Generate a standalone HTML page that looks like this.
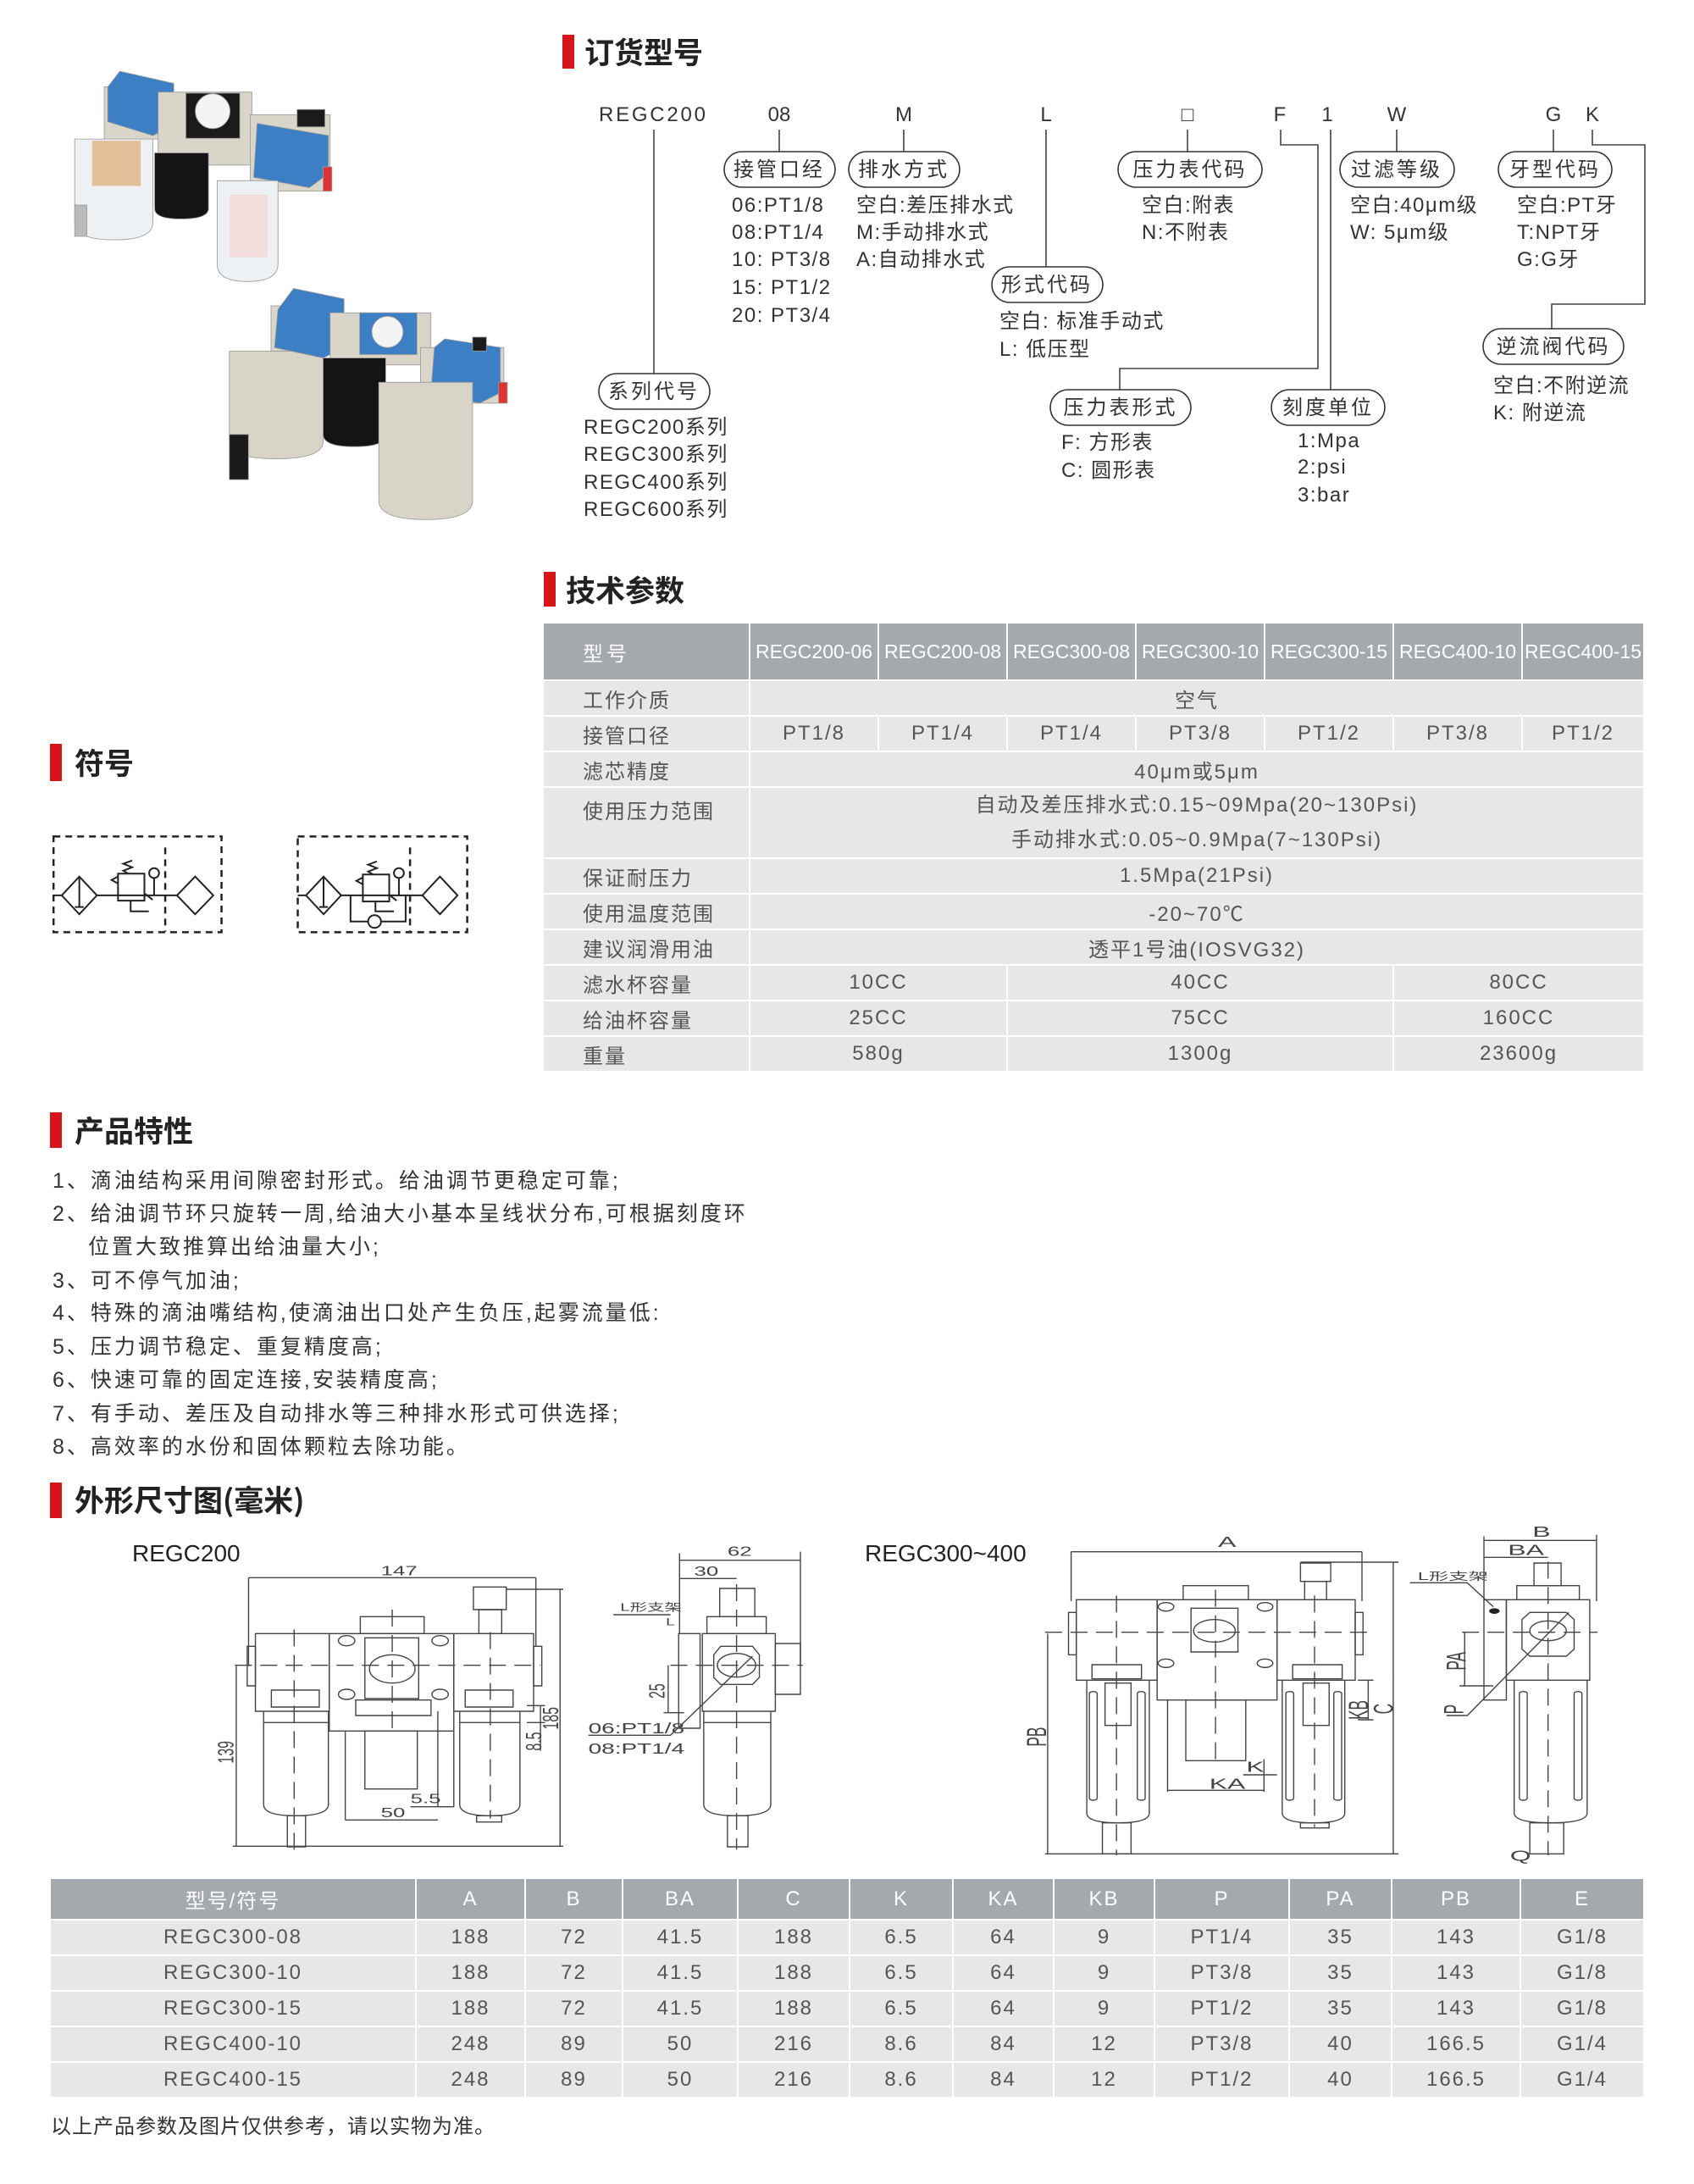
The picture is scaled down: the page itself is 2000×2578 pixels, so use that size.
<!DOCTYPE html>
<html><head><meta charset="utf-8">
<style>
*{margin:0;padding:0;box-sizing:border-box}
body{width:2000px;height:2578px;position:relative;background:#fff;font-family:"Liberation Sans","Noto Sans CJK SC",sans-serif;color:#333;overflow:hidden}
.abs{position:absolute}
.bar{position:absolute;width:14px;background:#d7141a}
.ttl{position:absolute;font-family:"Noto Sans CJK SC",sans-serif;font-weight:bold;font-size:35px;color:#222;line-height:1}
table{border-collapse:collapse;table-layout:fixed;position:absolute}
td{border:2px solid #fff;background:#e6e7e9;text-align:center;font-family:"Liberation Sans","Noto Sans CJK SC",sans-serif;font-size:24px;color:#555;letter-spacing:2px;padding:0;white-space:nowrap;overflow:hidden}
tr.h td{background:#a5a9ad;color:#fff}
td.l{text-align:left;padding-left:46px}
.feat{position:absolute;left:62px;font-family:"Liberation Sans","Noto Sans CJK SC",sans-serif;font-size:25px;letter-spacing:3px;color:#333;line-height:1;white-space:nowrap}
</style></head><body>

<!-- product photos -->
<svg class="abs" style="left:0;top:0" width="640" height="640" viewBox="0 0 1560 1560" preserveAspectRatio="none">
 <g stroke="#999" stroke-width="2">
  <path d="M215 400 L440 400 L440 640 Q440 690 330 690 Q215 690 215 640 Z" fill="#eef1f4"/>
  <rect x="265" y="405" width="140" height="130" fill="#e2bf98" stroke="none"/>
  <rect x="215" y="590" width="35" height="90" fill="#bbb"/>
  <path d="M300 250 L460 250 L460 400 L300 400 Z" fill="#d9d5c8"/>
  <path d="M345 205 L500 240 L500 360 L440 390 L310 350 L310 250 Z" fill="#3d7fc4"/>
  <rect x="455" y="265" width="270" height="210" fill="#d9d5c8"/>
  <rect x="535" y="268" width="155" height="130" fill="#1b1b1b"/>
  <circle cx="612" cy="320" r="50" fill="#f4f4f4"/>
  <path d="M445 440 L600 440 L600 600 Q600 630 520 630 Q445 630 445 600 Z" fill="#141414"/>
  <rect x="720" y="330" width="230" height="220" fill="#d9d5c8"/>
  <path d="M740 355 L945 390 L945 500 L890 540 L730 510 Z" fill="#3d7fc4"/>
  <rect x="855" y="315" width="80" height="50" fill="#1b1b1b"/>
  <path d="M625 520 L800 520 L800 760 Q800 810 712 810 Q625 810 625 760 Z" fill="#eef1f4"/>
  <rect x="660" y="560" width="110" height="180" fill="#f3dede" stroke="none"/>
  <rect x="930" y="480" width="25" height="70" fill="#d33"/>
  <path d="M660 1010 L930 1010 L930 1270 Q930 1320 795 1320 Q660 1320 660 1270 Z" fill="#d8d4c7"/>
  <rect x="660" y="1250" width="55" height="130" fill="#1a1a1a"/>
  <rect x="780" y="880" width="180" height="130" fill="#d9d5c8"/>
  <path d="M845 830 L990 860 L990 1000 L930 1030 L790 1000 L800 890 Z" fill="#3d7fc4"/>
  <rect x="950" y="900" width="290" height="150" fill="#d9d5c8"/>
  <rect x="1035" y="900" width="165" height="120" fill="#3d7fc4"/>
  <circle cx="1115" cy="955" r="45" fill="#f4f4f4"/>
  <path d="M930 1030 L1110 1030 L1110 1250 Q1110 1285 1020 1285 Q930 1285 930 1250 Z" fill="#141414"/>
  <rect x="1210" y="1000" width="240" height="160" fill="#d9d5c8"/>
  <path d="M1280 975 L1440 1000 L1440 1130 L1380 1160 L1240 1130 L1250 1000 Z" fill="#3d7fc4"/>
  <rect x="1360" y="970" width="40" height="40" fill="#1b1b1b"/>
  <path d="M1090 1100 L1360 1100 L1360 1440 Q1360 1495 1225 1495 Q1090 1495 1090 1440 Z" fill="#d8d4c7"/>
  <rect x="1435" y="1100" width="25" height="60" fill="#d33"/>
 </g>
</svg>

<!-- 订货型号 -->
<div class="bar" style="left:664px;top:41px;height:40px"></div>
<div class="ttl" style="left:690px;top:43px">订货型号</div>

<svg class="abs" style="left:0;top:0" width="2000" height="640">
 <g stroke="#444" stroke-width="1.6" fill="none">
  <path d="M772 153V441M920 153V179M1067 153V179M1235 153V315M1402 153V179M1571 153V460M1649 153V179M1834 153V179"/>
  <path d="M1512 153V171H1556V435H1322V460"/>
  <path d="M1880 153V171H1942V359H1832V388"/>
 </g>
 <g stroke="#333" stroke-width="1.6" fill="#fff">
  <rect x="855" y="179" width="131" height="42" rx="21"/>
  <rect x="1002" y="179" width="131" height="42" rx="21"/>
  <rect x="1320" y="179" width="170" height="42" rx="21"/>
  <rect x="1582" y="179" width="135" height="42" rx="21"/>
  <rect x="1769" y="179" width="134" height="42" rx="21"/>
  <rect x="1171" y="315" width="131" height="42" rx="21"/>
  <rect x="707" y="441" width="131" height="42" rx="21"/>
  <rect x="1240" y="460" width="166" height="42" rx="21"/>
  <rect x="1501" y="460" width="134" height="42" rx="21"/>
  <rect x="1751" y="388" width="166" height="42" rx="21"/>
 </g>
 <g font-family="Liberation Sans, Noto Sans CJK SC, sans-serif" font-size="24" fill="#333">
  <text x="707" y="143" textLength="129" letter-spacing="3">REGC200</text>
  <g text-anchor="middle">
   <text x="920" y="143">08</text><text x="1067" y="143">M</text><text x="1235" y="143">L</text>
   <text x="1402" y="143">□</text><text x="1511" y="143">F</text><text x="1567" y="143">1</text>
   <text x="1649" y="143">W</text><text x="1834" y="143">G</text><text x="1880" y="143">K</text>
  </g>
  <g text-anchor="middle" letter-spacing="3">
   <text x="920" y="208">接管口经</text><text x="1067" y="208">排水方式</text>
   <text x="1405" y="208">压力表代码</text><text x="1649" y="208">过滤等级</text>
   <text x="1836" y="208">牙型代码</text><text x="1236" y="344">形式代码</text>
   <text x="772" y="470">系列代号</text><text x="1323" y="489">压力表形式</text>
   <text x="1568" y="489">刻度单位</text><text x="1834" y="417">逆流阀代码</text>
  </g>
  <g letter-spacing="1.5">
   <text x="864" y="250">06:PT1/8</text><text x="864" y="282">08:PT1/4</text><text x="864" y="314">10: PT3/8</text><text x="864" y="347">15: PT1/2</text><text x="864" y="380">20: PT3/4</text>
   <text x="1011" y="250">空白:差压排水式</text><text x="1011" y="282">M:手动排水式</text><text x="1011" y="314">A:自动排水式</text>
   <text x="1348" y="250">空白:附表</text><text x="1348" y="282">N:不附表</text>
   <text x="1594" y="250">空白:40μm级</text><text x="1594" y="282">W: 5μm级</text>
   <text x="1791" y="250">空白:PT牙</text><text x="1791" y="282">T:NPT牙</text><text x="1791" y="314">G:G牙</text>
   <text x="1180" y="387">空白: 标准手动式</text><text x="1180" y="420">L: 低压型</text>
   <text x="689" y="512">REGC200系列</text><text x="689" y="544">REGC300系列</text><text x="689" y="577">REGC400系列</text><text x="689" y="609">REGC600系列</text>
   <text x="1253" y="530">F: 方形表</text><text x="1253" y="563">C: 圆形表</text>
   <text x="1532" y="528">1:Mpa</text><text x="1532" y="559">2:psi</text><text x="1532" y="592">3:bar</text>
   <text x="1763" y="463">空白:不附逆流</text><text x="1763" y="495">K: 附逆流</text>
  </g>
 </g>
</svg>

<!-- 技术参数 -->
<div class="bar" style="left:642px;top:675px;height:41px"></div>
<div class="ttl" style="left:668px;top:678px">技术参数</div>
<table style="left:640px;top:734px;width:1300px">
 <colgroup><col style="width:244px"><col style="width:152px"><col style="width:152px"><col style="width:152px"><col style="width:152px"><col style="width:152px"><col style="width:152px"><col style="width:144px"></colgroup>
 <tr class="h" style="height:68px"><td class="l" style="letter-spacing:4px">型号</td><td style="letter-spacing:0;font-size:23px">REGC200-06</td><td style="letter-spacing:0;font-size:23px">REGC200-08</td><td style="letter-spacing:0;font-size:23px">REGC300-08</td><td style="letter-spacing:0;font-size:23px">REGC300-10</td><td style="letter-spacing:0;font-size:23px">REGC300-15</td><td style="letter-spacing:0;font-size:23px">REGC400-10</td><td style="letter-spacing:0;font-size:23px">REGC400-15</td></tr>
 <tr style="height:42px"><td class="l">工作介质</td><td colspan="7">空气</td></tr>
 <tr style="height:42px"><td class="l">接管口径</td><td>PT1/8</td><td>PT1/4</td><td>PT1/4</td><td>PT3/8</td><td>PT1/2</td><td>PT3/8</td><td>PT1/2</td></tr>
 <tr style="height:42px"><td class="l">滤芯精度</td><td colspan="7">40μm或5μm</td></tr>
 <tr style="height:84px"><td class="l" style="vertical-align:top;padding-top:8px">使用压力范围</td><td colspan="7" style="line-height:41px">自动及差压排水式:0.15~09Mpa(20~130Psi)<br>手动排水式:0.05~0.9Mpa(7~130Psi)</td></tr>
 <tr style="height:42px"><td class="l">保证耐压力</td><td colspan="7">1.5Mpa(21Psi)</td></tr>
 <tr style="height:42px"><td class="l">使用温度范围</td><td colspan="7">-20~70℃</td></tr>
 <tr style="height:42px"><td class="l">建议润滑用油</td><td colspan="7">透平1号油(IOSVG32)</td></tr>
 <tr style="height:42px"><td class="l">滤水杯容量</td><td colspan="2">10CC</td><td colspan="3">40CC</td><td colspan="2">80CC</td></tr>
 <tr style="height:42px"><td class="l">给油杯容量</td><td colspan="2">25CC</td><td colspan="3">75CC</td><td colspan="2">160CC</td></tr>
 <tr style="height:42px"><td class="l">重量</td><td colspan="2">580g</td><td colspan="3">1300g</td><td colspan="2">23600g</td></tr>
</table>

<!-- 符号 -->
<div class="bar" style="left:59px;top:878px;height:44px"></div>
<div class="ttl" style="left:88px;top:882px">符号</div>
<svg class="abs" style="left:40px;top:860px" width="540" height="250" viewBox="0 0 1560 730" preserveAspectRatio="none">
 <g fill="none" stroke="#222" stroke-width="2">
  <g stroke-dasharray="8 6" stroke-width="2.5">
   <rect x="67" y="372" width="573" height="330" vector-effect="non-scaling-stroke"/>
   <path d="M448 410V700" vector-effect="non-scaling-stroke"/>
   <rect x="900" y="372" width="578" height="330" vector-effect="non-scaling-stroke"/>
   <path d="M1283 410V700" vector-effect="non-scaling-stroke"/>
  </g>
  <path d="M67 575H95M215 575H488" vector-effect="non-scaling-stroke"/>
  <path d="M95 575L155 510L215 575L155 640Z M155 510V615 M140 615H170" vector-effect="non-scaling-stroke"/>
  <rect x="287" y="500" width="90" height="93" vector-effect="non-scaling-stroke"/>
  <path d="M287 510L265 522L287 534 M322 500L305 490L335 478L305 466L335 455" vector-effect="non-scaling-stroke"/>
  <path d="M380 570L405 590 M330 593V630H392 M410 575V515" vector-effect="non-scaling-stroke"/>
  <circle cx="410" cy="498" r="17" vector-effect="non-scaling-stroke"/>
  <path d="M488 575L550 510L612 575L550 640Z" vector-effect="non-scaling-stroke"/>
  <path d="M900 575H928M1048 575H1325" vector-effect="non-scaling-stroke"/>
  <path d="M928 575L988 510L1048 575L988 640Z M988 510V615 M973 615H1003" vector-effect="non-scaling-stroke"/>
  <rect x="1122" y="503" width="90" height="93" vector-effect="non-scaling-stroke"/>
  <path d="M1122 513L1100 525L1122 537 M1157 503L1140 493L1170 481L1140 469L1170 458" vector-effect="non-scaling-stroke"/>
  <path d="M1212 573L1237 593 M1165 596V630H1228 M1245 575V515 M1080 575V665H1140 M1185 665H1268V575" vector-effect="non-scaling-stroke"/>
  <circle cx="1245" cy="498" r="17" vector-effect="non-scaling-stroke"/>
  <circle cx="1162" cy="665" r="22" vector-effect="non-scaling-stroke"/>
  <path d="M1325 575L1385 510L1445 575L1385 640Z" vector-effect="non-scaling-stroke"/>
 </g>
</svg>

<!-- 产品特性 -->
<div class="bar" style="left:59px;top:1313px;height:42px"></div>
<div class="ttl" style="left:88px;top:1316px">产品特性</div>
<div class="feat" style="top:1382px">1、滴油结构采用间隙密封形式。给油调节更稳定可靠;</div>
<div class="feat" style="top:1421px">2、给油调节环只旋转一周,给油大小基本呈线状分布,可根据刻度环</div>
<div class="feat" style="top:1460px;left:104px">位置大致推算出给油量大小;</div>
<div class="feat" style="top:1500px">3、可不停气加油;</div>
<div class="feat" style="top:1538px">4、特殊的滴油嘴结构,使滴油出口处产生负压,起雾流量低:</div>
<div class="feat" style="top:1578px">5、压力调节稳定、重复精度高;</div>
<div class="feat" style="top:1617px">6、快速可靠的固定连接,安装精度高;</div>
<div class="feat" style="top:1657px">7、有手动、差压及自动排水等三种排水形式可供选择;</div>
<div class="feat" style="top:1696px">8、高效率的水份和固体颗粒去除功能。</div>

<!-- 外形尺寸图 -->
<div class="bar" style="left:59px;top:1750px;height:42px"></div>
<div class="ttl" style="left:88px;top:1752px">外形尺寸图(毫米)</div>

<div class="abs" style="left:156px;top:1818px;font-size:28px;color:#222">REGC200</div>
<div class="abs" style="left:1021px;top:1818px;font-size:28px;color:#222">REGC300~400</div>

<svg class="abs" style="left:140px;top:1800px" width="840" height="400" viewBox="0 0 1560 1200" preserveAspectRatio="none">
 <g fill="none" stroke="#444" stroke-width="1.4">
  <path d="M285 187H915 M285 187V500 M915 187V430 M850 228H975 M968 228V1138 M250 1138H975 M258 500V1138 M497 1045H700 M497 730V1045 M700 660V1000 M640 998H735 M735 730V1000 M895 640H935 M895 700H935 M925 640V800" vector-effect="non-scaling-stroke"/>
  <rect x="300" y="385" width="162" height="275" vector-effect="non-scaling-stroke"/>
  <rect x="462" y="385" width="273" height="345" vector-effect="non-scaling-stroke"/>
  <rect x="735" y="385" width="175" height="275" vector-effect="non-scaling-stroke"/>
  <rect x="282" y="430" width="18" height="140" vector-effect="non-scaling-stroke"/>
  <rect x="910" y="430" width="18" height="140" vector-effect="non-scaling-stroke"/>
  <rect x="530" y="325" width="140" height="60" vector-effect="non-scaling-stroke"/>
  <rect x="778" y="220" width="72" height="80" vector-effect="non-scaling-stroke"/>
  <rect x="790" y="300" width="50" height="85" vector-effect="non-scaling-stroke"/>
  <rect x="540" y="400" width="118" height="215" vector-effect="non-scaling-stroke"/>
  <circle cx="600" cy="510" r="50" vector-effect="non-scaling-stroke"/>
  <circle cx="500" cy="410" r="18" vector-effect="non-scaling-stroke"/><circle cx="705" cy="410" r="18" vector-effect="non-scaling-stroke"/>
  <circle cx="500" cy="600" r="18" vector-effect="non-scaling-stroke"/><circle cx="705" cy="600" r="18" vector-effect="non-scaling-stroke"/>
  <rect x="335" y="585" width="105" height="60" vector-effect="non-scaling-stroke"/>
  <rect x="760" y="585" width="105" height="60" vector-effect="non-scaling-stroke"/>
  <rect x="520" y="620" width="165" height="55" vector-effect="non-scaling-stroke"/>
  <path d="M318 660V990Q318 1030 388 1030Q460 1030 460 990V660 M748 660V990Q748 1030 815 1030Q880 1030 880 990V660" vector-effect="non-scaling-stroke"/>
  <path d="M318 700H460 M748 700H880" vector-effect="non-scaling-stroke"/>
  <rect x="370" y="1030" width="40" height="110" vector-effect="non-scaling-stroke"/>
  <rect x="785" y="1030" width="55" height="22" vector-effect="non-scaling-stroke"/>
  <rect x="540" y="730" width="115" height="205" vector-effect="non-scaling-stroke"/>
  <path d="M255 497H925 M385 370V1150 M600 300V740 M815 380V1040 M1210 497H1500 M1355 210V1150" stroke-dasharray="20 10" vector-effect="non-scaling-stroke"/>
  <path d="M1230 125H1495 M1230 190H1355 M1230 100V385 M1495 95V500 M1205 497V665 M1195 665H1240 M1030 745H1210L1390 465 M1085 318H1210" vector-effect="non-scaling-stroke"/>
  <rect x="1280" y="385" width="160" height="275" vector-effect="non-scaling-stroke"/>
  <rect x="1318" y="225" width="77" height="100" vector-effect="non-scaling-stroke"/>
  <rect x="1290" y="325" width="130" height="60" vector-effect="non-scaling-stroke"/>
  <rect x="1440" y="420" width="55" height="180" vector-effect="non-scaling-stroke"/>
  <rect x="1228" y="385" width="47" height="335" vector-effect="non-scaling-stroke"/>
  <path d="M1320 430H1390L1405 460V540L1390 565H1320L1305 540V460Z" vector-effect="non-scaling-stroke"/>
  <circle cx="1355" cy="497" r="42" vector-effect="non-scaling-stroke"/>
  <path d="M1283 660V990Q1283 1030 1355 1030Q1430 1030 1430 990V660 M1283 700H1430" vector-effect="non-scaling-stroke"/>
  <rect x="1335" y="1030" width="45" height="110" vector-effect="non-scaling-stroke"/>
 </g>
 <g font-family="Liberation Sans, sans-serif" font-size="48" fill="#444">
  <text x="575" y="178">147</text><text x="575" y="1035">50</text><text x="640" y="985">5.5</text>
  <text x="1335" y="110">62</text><text x="1262" y="180">30</text>
  <text transform="translate(252,845) rotate(-90)">139</text>
  <text transform="translate(964,725) rotate(-90)">185</text>
  <text transform="translate(927,800) rotate(-90)">8.5</text>
  <text transform="translate(1197,615) rotate(-90)">25</text>
  <text x="1030" y="738" font-size="52">06:PT1/8</text><text x="1030" y="810" font-size="52">08:PT1/4</text>
  <text x="1100" y="305" font-size="38" font-family="Liberation Sans, Noto Sans CJK SC, sans-serif">L形支架</text>
  <text x="1200" y="355" font-size="36">L</text>
 </g>
</svg>

<svg class="abs" style="left:1000px;top:1790px" width="960" height="410" viewBox="0 0 1560 1230" preserveAspectRatio="none">
 <g fill="none" stroke="#444" stroke-width="1.4">
  <path d="M430 125H988 M430 125V300 M988 125V300 M870 162H1058 M1048 162V1195 M380 1195H1058 M385 415V1195 M615 970H800 M615 650V975 M800 860V975 M760 915H825 M1000 580V720 M980 580H1010 M980 720H1010" vector-effect="non-scaling-stroke"/>
  <rect x="440" y="295" width="155" height="285" vector-effect="non-scaling-stroke"/>
  <rect x="595" y="295" width="230" height="355" vector-effect="non-scaling-stroke"/>
  <rect x="825" y="295" width="150" height="285" vector-effect="non-scaling-stroke"/>
  <rect x="425" y="340" width="15" height="150" vector-effect="non-scaling-stroke"/>
  <rect x="975" y="340" width="15" height="150" vector-effect="non-scaling-stroke"/>
  <rect x="645" y="245" width="125" height="50" vector-effect="non-scaling-stroke"/>
  <rect x="870" y="165" width="58" height="65" vector-effect="non-scaling-stroke"/>
  <rect x="878" y="230" width="42" height="65" vector-effect="non-scaling-stroke"/>
  <rect x="660" y="325" width="90" height="155" vector-effect="non-scaling-stroke"/>
  <circle cx="705" cy="405" r="40" vector-effect="non-scaling-stroke"/>
  <circle cx="612" cy="320" r="15" vector-effect="non-scaling-stroke"/><circle cx="802" cy="320" r="15" vector-effect="non-scaling-stroke"/>
  <circle cx="612" cy="520" r="15" vector-effect="non-scaling-stroke"/><circle cx="802" cy="520" r="15" vector-effect="non-scaling-stroke"/>
  <rect x="470" y="525" width="95" height="50" vector-effect="non-scaling-stroke"/>
  <rect x="855" y="525" width="95" height="50" vector-effect="non-scaling-stroke"/>
  <path d="M460 580V1050Q460 1085 520 1085Q580 1085 580 1050V580 M835 580V1050Q835 1085 895 1085Q955 1085 955 1050V580" vector-effect="non-scaling-stroke"/>
  <rect x="465" y="620" width="15" height="385" rx="7" vector-effect="non-scaling-stroke"/><rect x="557" y="620" width="15" height="385" rx="7" vector-effect="non-scaling-stroke"/>
  <rect x="842" y="620" width="15" height="385" rx="7" vector-effect="non-scaling-stroke"/><rect x="934" y="620" width="15" height="385" rx="7" vector-effect="non-scaling-stroke"/>
  <rect x="495" y="590" width="50" height="150" vector-effect="non-scaling-stroke"/><rect x="875" y="590" width="50" height="150" vector-effect="non-scaling-stroke"/>
  <rect x="490" y="1085" width="55" height="110" vector-effect="non-scaling-stroke"/>
  <rect x="870" y="1085" width="55" height="18" vector-effect="non-scaling-stroke"/>
  <rect x="650" y="650" width="115" height="215" vector-effect="non-scaling-stroke"/>
  <path d="M380 410H1010 M517 280V1200 M707 260V880 M897 280V1100 M1180 410H1440 M1345 160V1200" stroke-dasharray="20 10" vector-effect="non-scaling-stroke"/>
  <path d="M1222 85H1438 M1222 145H1345 M1222 70V300 M1438 65V300 M1185 410V600 M1175 600H1240 M1080 235H1190L1240 320 M1150 705H1190L1385 340" vector-effect="non-scaling-stroke"/>
  <rect x="1265" y="295" width="160" height="285" vector-effect="non-scaling-stroke"/>
  <rect x="1318" y="165" width="52" height="80" vector-effect="non-scaling-stroke"/>
  <rect x="1285" y="245" width="120" height="50" vector-effect="non-scaling-stroke"/>
  <rect x="1222" y="295" width="43" height="355" vector-effect="non-scaling-stroke"/>
  <path d="M1310 340H1380L1395 365V470L1380 495H1310L1295 470V365Z" vector-effect="non-scaling-stroke"/>
  <circle cx="1345" cy="405" r="35" vector-effect="non-scaling-stroke"/>
  <path d="M1280 580V1050Q1280 1085 1350 1085Q1420 1085 1420 1050V580" vector-effect="non-scaling-stroke"/>
  <rect x="1290" y="620" width="15" height="385" rx="7" vector-effect="non-scaling-stroke"/><rect x="1395" y="620" width="15" height="385" rx="7" vector-effect="non-scaling-stroke"/>
  <rect x="1310" y="1085" width="65" height="110" vector-effect="non-scaling-stroke"/>
 </g>
 <circle cx="1242" cy="335" r="10" fill="#222"/>
 <g font-family="Liberation Sans, sans-serif" font-size="52" fill="#444">
  <text x="712" y="108">A</text><text x="695" y="965">KA</text><text x="766" y="905">K</text>
  <text x="1315" y="72">B</text><text x="1268" y="137">BA</text>
  <text transform="translate(382,815) rotate(-90)">PB</text>
  <text transform="translate(1047,700) rotate(-90)">C</text>
  <text transform="translate(999,720) rotate(-90)">KB</text>
  <text transform="translate(1187,545) rotate(-90)">PA</text>
  <text transform="translate(1182,700) rotate(-90)">P</text>
  <text x="1272" y="1220">Q</text>
  <text x="1095" y="225" font-size="38" font-family="Liberation Sans, Noto Sans CJK SC, sans-serif">L形支架</text>
 </g>
</svg>

<!-- bottom table -->
<table style="left:58px;top:2216px;width:1882px">
 <colgroup><col style="width:432px"><col style="width:129px"><col style="width:115px"><col style="width:136px"><col style="width:132px"><col style="width:122px"><col style="width:119px"><col style="width:119px"><col style="width:159px"><col style="width:121px"><col style="width:152px"><col style="width:146px"></colgroup>
 <tr class="h" style="height:49px"><td>型号/符号</td><td>A</td><td>B</td><td>BA</td><td>C</td><td>K</td><td>KA</td><td>KB</td><td>P</td><td>PA</td><td>PB</td><td>E</td></tr>
 <tr style="height:42px"><td>REGC300-08</td><td>188</td><td>72</td><td>41.5</td><td>188</td><td>6.5</td><td>64</td><td>9</td><td>PT1/4</td><td>35</td><td>143</td><td>G1/8</td></tr>
 <tr style="height:42px"><td>REGC300-10</td><td>188</td><td>72</td><td>41.5</td><td>188</td><td>6.5</td><td>64</td><td>9</td><td>PT3/8</td><td>35</td><td>143</td><td>G1/8</td></tr>
 <tr style="height:42px"><td>REGC300-15</td><td>188</td><td>72</td><td>41.5</td><td>188</td><td>6.5</td><td>64</td><td>9</td><td>PT1/2</td><td>35</td><td>143</td><td>G1/8</td></tr>
 <tr style="height:42px"><td>REGC400-10</td><td>248</td><td>89</td><td>50</td><td>216</td><td>8.6</td><td>84</td><td>12</td><td>PT3/8</td><td>40</td><td>166.5</td><td>G1/4</td></tr>
 <tr style="height:42px"><td>REGC400-15</td><td>248</td><td>89</td><td>50</td><td>216</td><td>8.6</td><td>84</td><td>12</td><td>PT1/2</td><td>40</td><td>166.5</td><td>G1/4</td></tr>
</table>
<div class="abs" style="left:60px;top:2490px;font-size:24px;color:#333;letter-spacing:1px">以上产品参数及图片仅供参考，请以实物为准。</div>
</body></html>
